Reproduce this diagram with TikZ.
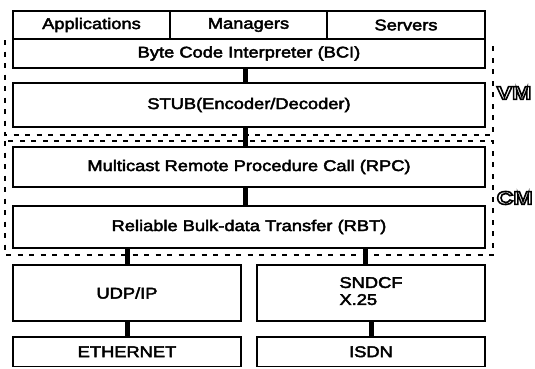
\documentclass[tikz,border=0pt]{standalone}
\usepackage{fontspec}
\setmainfont{Liberation Sans}[FakeStretch=1.18]
\newfontfamily\tagfont{Liberation Sans Bold}[FakeStretch=1.25]
% hollow lettering: white fill, black stroke
\newcommand\hollowtext[1]{\special{pdf:literal direct 2 Tr 1.6 w 1 g 0 G}#1\special{pdf:literal direct 0 Tr 0 g}}
% slightly heavier body lettering: fill plus a thin stroke
\newcommand\heavyon{\special{pdf:literal direct 2 Tr 0.45 w 0 G}}
\newcommand\heavyoff{\special{pdf:literal direct 0 Tr}}
\begin{document}
\begin{tikzpicture}[x=1pt,y=-1pt,
  layer/.style={draw, line width=1.8pt, inner sep=0pt, font=\fontsize{15.5}{17}\selectfont,
    execute at begin node=\heavyon, execute at end node=\heavyoff},
  link/.style={line width=5pt},
  frame/.style={line width=2pt, dash pattern=on 5pt off 6.5pt},
  tag/.style={inner sep=0pt, anchor=west, font=\fontsize{18.5}{20}\tagfont}]
\useasboundingbox (0,0) rectangle (535,368);

% dashed frames of the two groups
\coordinate (vmtl) at (5,40);
\coordinate (vmbr) at (493,135);
\coordinate (cmtl) at (5,141);
\coordinate (cmbr) at (493,255);
\draw[frame] (vmtl) -- (vmtl |- vmbr) -- (vmbr) -- (vmbr |- vmtl);
\draw[frame] (cmtl) rectangle (cmbr);

% protocol layers
\node[layer, minimum width=157, minimum height=28] (app)  at (91.5,25) {Applications};
\node[layer, minimum width=157, minimum height=28] (mgr)  at (248.5,25) {Managers};
\node[layer, minimum width=158, minimum height=28] (srv)  at (406,25) {Servers};
\node[layer, minimum width=472, minimum height=29] (bci)  at (249,53.5) {Byte Code Interpreter (BCI)};
\node[layer, minimum width=472, minimum height=44] (stub) at (249,105) {STUB(Encoder/Decoder)};
\node[layer, minimum width=472, minimum height=40] (rpc)  at (249,167) {Multicast Remote Procedure Call (RPC)};
\node[layer, minimum width=472, minimum height=42] (rbt)  at (249,227) {Reliable Bulk-data Transfer (RBT)};
\node[layer, minimum width=228, minimum height=56] (udp)  at (127,293) {UDP/IP};
\node[layer, minimum width=228, minimum height=56] (sndcf) at (371,293) {\raisebox{-4pt}{\begin{tabular}{@{}l@{}}SNDCF\\[0pt]X.25\end{tabular}}};
\node[layer, minimum width=228, minimum height=29.5] (eth)  at (127,351.75) {ETHERNET};
\node[layer, minimum width=228, minimum height=29.5] (isdn) at (371,351.75) {\raisebox{-3pt}{ISDN}};

% links between layers
\coordinate (midx) at (245,0);
\coordinate (rightx) at (365,0);
\draw[link] (bci.south -| midx) -- (stub.north -| midx);
\draw[link] (stub.south -| midx) -- (rpc.north -| midx);
\draw[link] (rpc.south -| midx) -- (rbt.north -| midx);
\draw[link] (udp.north) -- (udp.north |- rbt.south);
\draw[link] (sndcf.north -| rightx) -- (rbt.south -| rightx);
\draw[link] (udp.south) -- (eth.north);
\draw[link] (sndcf.south) -- (isdn.north);

% group names
\node[tag] (vm) at (496.5,93) {\hollowtext{VM}};
\node[tag] (cm) at (496.5,198) {\hollowtext{CM}};
\end{tikzpicture}
\end{document}
